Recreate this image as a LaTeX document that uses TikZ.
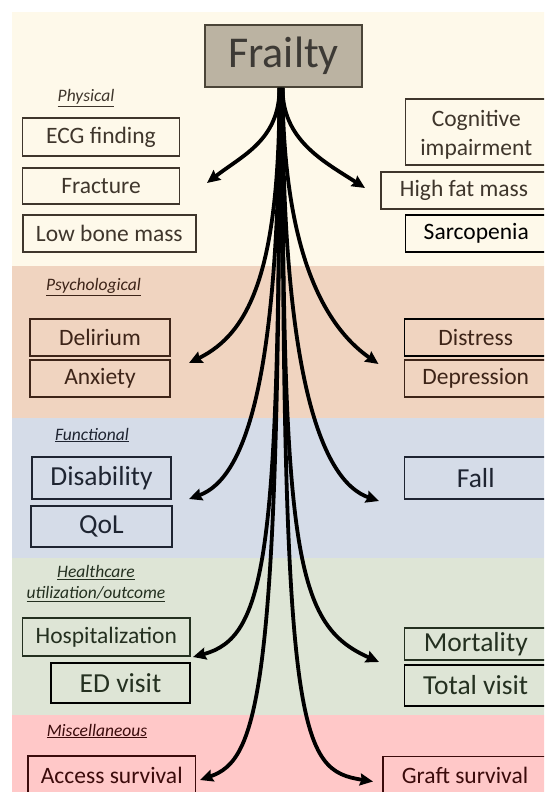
\documentclass[tikz,border=0pt]{standalone}
\usepackage{fontspec}
\setmainfont{Carlito}
\usetikzlibrary{arrows.meta}
\definecolor{bgPhys}{HTML}{FEF9EA}
\definecolor{bgPsy}{HTML}{F0D4C0}
\definecolor{bgFun}{HTML}{D5DCE8}
\definecolor{bgHea}{HTML}{DEE5D6}
\definecolor{bgMis}{HTML}{FFC8C8}
\definecolor{frFill}{HTML}{BBB3A2}
\definecolor{frLine}{HTML}{4B4538}
\definecolor{frText}{HTML}{3D3A35}
\definecolor{cPhys}{HTML}{3F362C}
\definecolor{cPsy}{HTML}{3D2418}
\definecolor{cFun}{HTML}{1E2431}
\definecolor{cHea}{HTML}{243020}
\definecolor{cMis}{HTML}{3B0B0B}
\tikzset{
  box/.style={draw, line width=1.4pt, inner sep=0pt, align=center,
    font=\fontsize{23.5}{29}\selectfont},
  bigbox/.style={box, font=\fontsize{27.5}{32}\selectfont},
  catlabel/.style={font=\fontsize{17.5}{21.5}\selectfont\itshape, anchor=base, inner sep=0pt, align=center},
  flow/.style={line width=3.8pt, -{Stealth[length=13pt,width=12pt,inset=1.5pt]}},
}
\begin{document}
\begin{tikzpicture}[x=1pt,y=-1pt]
\useasboundingbox (0,0) rectangle (544,792);
\clip (0,0) rectangle (544,792);
% bands
\fill[bgPhys] (11.5,12) rectangle (546,265.5);
\fill[bgPsy] (11.5,265.5) rectangle (546,418);
\fill[bgFun] (11.5,418) rectangle (546,558);
\fill[bgHea] (11.5,558) rectangle (546,715);
\fill[bgMis] (11.5,715) rectangle (546,794);

% top node
\node[draw=frLine, fill=frFill, line width=1.8pt, text=frText, minimum width=157pt, minimum height=62pt,
      inner sep=0pt, font=\fontsize{44}{50}\selectfont] (frailty) at (283.5,56) {Frailty};

% category labels
\node[catlabel, text=cPhys] (labphys) at (86,101.5) {\underline{Physical}};
\node[catlabel, text=cPsy] (labpsy) at (93.5,290.5) {\underline{Psychological}};
\node[catlabel, text=cFun] (labfun) at (92,440) {\underline{Functional}};
\node[catlabel, text=cHea, anchor=north] (labhea) at (96,565) {\underline{Healthcare}\\\underline{utilization/outcome}};
\node[catlabel, text=cMis] (labmis) at (97,736) {\underline{Miscellaneous}};

% physical
\node[box, draw=cPhys, text=cPhys, minimum width=157pt, minimum height=38pt] (ecg) at (101,137) {ECG finding};
\node[box, draw=cPhys, text=cPhys, minimum width=157pt, minimum height=36pt] (fracture) at (101,186) {Fracture};
\node[box, draw=cPhys, text=cPhys, minimum width=173pt, minimum height=37pt] (lowbone) at (109.3,233.5) {Low bone mass};
\node[box, draw=cPhys, text=cPhys, minimum width=141.5pt, minimum height=66pt] (cognitive) at (476.25,132)
  {\raisebox{-3pt}[\height][\depth]{\begin{tabular}{@{}c@{}}Cognitive\\[-0.5pt]impairment\end{tabular}}};
\node[box, draw=cPhys, text=cPhys, minimum width=166pt, minimum height=37pt] (highfat) at (464,190.5) {High fat mass};
\node[box, draw=black, text=black, minimum width=141.5pt, minimum height=37pt] (sarcopenia) at (476.25,233.5) {Sarcopenia};

% psychological
\node[box, draw=cPsy, text=cPsy, minimum width=140pt, minimum height=37pt] (delirium) at (100,337.5) {Delirium};
\node[box, draw=cPsy, text=cPsy, minimum width=140pt, minimum height=37pt] (anxiety) at (100,378.5) {Anxiety};
\node[box, draw=black, text=cPsy, minimum width=142.5pt, minimum height=37pt] (distress) at (475.75,337.5) {Distress};
\node[box, draw=cPsy, text=cPsy, minimum width=142.5pt, minimum height=37pt] (depression) at (475.75,378.5) {Depression};

% functional
\node[bigbox, draw=cFun, text=cFun, minimum width=139pt, minimum height=42pt] (disability) at (101.5,478) {Disability};
\node[bigbox, draw=cFun, text=cFun, minimum width=141pt, minimum height=41pt] (qol) at (101.5,526.5) {QoL};
\node[bigbox, draw=cFun, text=cFun, minimum width=142.5pt, minimum height=42pt] (fall) at (475.75,478) {Fall};

% healthcare
\node[box, draw=cHea, text=cHea, minimum width=167.4pt, minimum height=38pt] (hosp) at (106.3,637) {Hospitalization};
\node[bigbox, draw=black, text=cHea, minimum width=139pt, minimum height=40pt] (edvisit) at (120.5,683) {ED visit};
\node[bigbox, draw=cHea, text=cHea, minimum width=142.5pt, minimum height=32pt] (mortality) at (475.75,644) {Mortality};
\node[bigbox, draw=black, text=cHea, minimum width=142.5pt, minimum height=41pt] (totalvisit) at (475.75,685.5) {Total visit};

% miscellaneous
\node[box, draw=cMis, text=cMis, minimum width=167.5pt, minimum height=38pt] (access) at (111.75,775) {Access survival};
\node[box, draw=cMis, text=cMis, minimum width=164pt, minimum height=37.5pt] (graft) at (465,775.25) {Graft survival};

% arrow tips
\coordinate (tPhysL) at (207,183);
\coordinate (tPhysR) at (365,188);
\coordinate (tPsyL) at (189,363);
\coordinate (tPsyR) at (378.5,364);
\coordinate (tFunL) at (189,499);
\coordinate (tFunR) at (379,501);
\coordinate (tHeaL) at (193,657);
\coordinate (tHeaR) at (379,662);
\coordinate (tMisL) at (200,780);
\coordinate (tMisR) at (373,781.5);

% arrows
\draw[flow] ([xshift=-4pt]frailty.south) .. controls (279.5,140) and (242.5,155.3) .. (tPhysL);
\draw[flow] ([xshift=-1pt]frailty.south) .. controls (282.5,140) and (323,161) .. (tPhysR);
\draw[flow] ([xshift=-4pt]frailty.south) .. controls (279.5,270) and (250,333) .. (tPsyL);
\draw[flow] ([xshift=-1pt]frailty.south) .. controls (283.5,230) and (314,319) .. (tPsyR);
\draw[flow] ([xshift=-4pt]frailty.south) .. controls (279.5,380) and (245.4,478.5) .. (tFunL);
\draw[flow] ([xshift=-1pt]frailty.south) .. controls (282.5,380) and (322.3,481.5) .. (tFunR);
\draw[flow] ([xshift=-4pt]frailty.south) .. controls (279.5,560) and (265.4,637.6) .. (tHeaL);
\draw[flow] ([xshift=-1pt]frailty.south) .. controls (282.5,560) and (296,625) .. (tHeaR);
\draw[flow] ([xshift=-4pt]frailty.south) .. controls (279.5,700) and (257,760) .. (tMisL);
\draw[flow] ([xshift=-1pt]frailty.south) .. controls (282.5,740) and (300,770) .. (tMisR);
\end{tikzpicture}
\end{document}
